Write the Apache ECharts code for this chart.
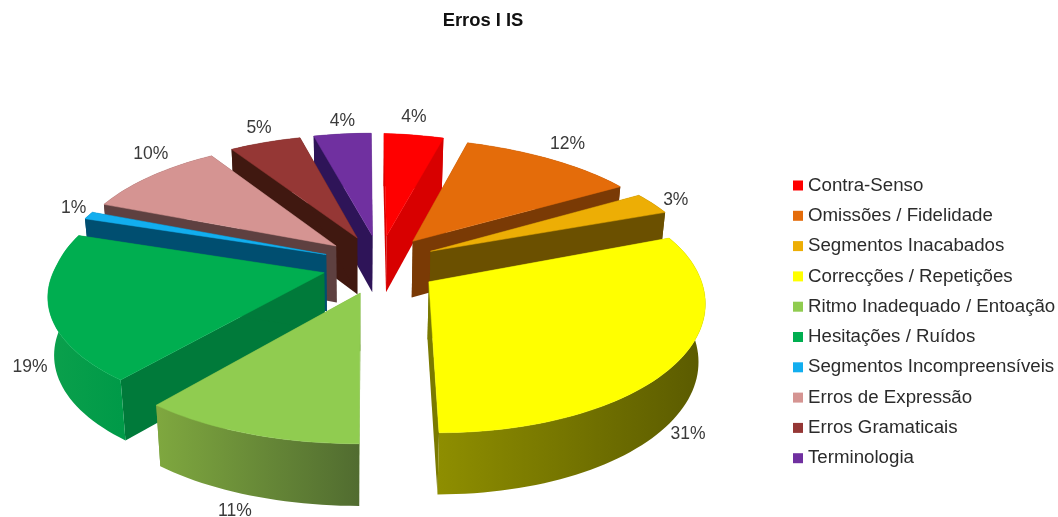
<!DOCTYPE html>
<html>
<head>
<meta charset="utf-8">
<script src="https://cdn.jsdelivr.net/npm/echarts@6/dist/echarts.min.js"></script>
<style>html,body{margin:0;padding:0;background:#fff}#chart{width:1058px;height:517px}</style>
</head>
<body>
<div id="chart"></div>
<script>
// Error categories and their shares, in clockwise order from twelve o'clock
const categories = ['Contra-Senso', 'Omissões / Fidelidade', 'Segmentos Inacabados', 'Correcções / Repetições',
  'Ritmo Inadequado / Entoação', 'Hesitações / Ruídos', 'Segmentos Incompreensíveis', 'Erros de Expressão',
  'Erros Gramaticais', 'Terminologia'];
const shares = [4, 12, 3, 31, 11, 19, 1, 10, 5, 4];

// Slice colours: top face, radial wall, rim gradient (left to right)
const topColors = ['#FF0000', '#E46C0A', '#EDAE05', '#FFFF00', '#90CC50', '#00AE50', '#12AEEF', '#D59492', '#953735', '#7030A0'];
const wallColors = ['#D80000', '#7A3A05', '#6B5000', '#7A7A00', '#6F9A3A', '#007A3A', '#004E70', '#5E4040', '#401810', '#2E1458'];
const rimColors = [['#D80000', '#D80000'], ['#7A3A05', '#7A3A05'], ['#6B5000', '#6B5000'], ['#8E8E00', '#5A5A00'],
  ['#7FA83F', '#516C30'], ['#0BA04C', '#009A48'], ['#004E70', '#004E70'], ['#5E4040', '#5E4040'], ['#401810', '#401810'], ['#2E1458', '#2E1458']];
// Label offsets from the rim point at each slice's mid angle
const labelNudge = [[0, -18], [16, -15], [23, -3], [10, 73], [-13, 78], [-19, 58], [-15, -7], [0, -22], [-6, -14], [0, -13]];

// Pie geometry in a tilted plane with simple perspective
const CX = 380, CY = 264.4, RX = 268, RY = 123, PERSP = 0.13, VANISH_X = 362;
const FRONT_LEFT_FLARE = 11, BACK_RIGHT_DRIFT = 6, FRONT_RIGHT_SAG = 4;
const EXPLODE_U = 0.215, EXPLODE_V = 0.24, DEPTH = 57, FLOOR_SHRINK = 0.98;

const total = shares.reduce((a, b) => a + b, 0);
const startShare = shares.map((_, i) => shares.slice(0, i).reduce((a, b) => a + b, 0));

function project(u, v) {
  const s = 1 / (1 - PERSP * v);
  const flare = FRONT_LEFT_FLARE * Math.max(0, -u) * Math.max(0, v);
  const drift = BACK_RIGHT_DRIFT * Math.max(0, u) * Math.max(0, -v);
  const sag = FRONT_RIGHT_SAG * Math.max(0, v) * Math.min(1, Math.max(0, u) * 6);
  return [VANISH_X + (CX - VANISH_X + RX * u) * s - flare + drift, CY + RY * v * s + drift + sag, s];
}
function floorOf(p) {
  return [VANISH_X + (p[0] - VANISH_X) * FLOOR_SHRINK, p[1] + DEPTH * Math.sqrt(p[2])];
}
function sliceGeometry(i, value) {
  const a0 = startShare[i] / total * 2 * Math.PI;
  const a1 = a0 + value / total * 2 * Math.PI;
  const mid = (a0 + a1) / 2;
  const u0 = Math.sin(mid) * EXPLODE_U, v0 = -Math.cos(mid) * EXPLODE_V;
  const arc = [];
  const steps = Math.max(4, Math.ceil((a1 - a0) / 0.03));
  for (let k = 0; k <= steps; k++) {
    const a = a0 + (a1 - a0) * k / steps;
    arc.push(project(u0 + Math.sin(a), v0 - Math.cos(a)));
  }
  return {
    apex: project(u0, v0), arc,
    rimMid: project(u0 + Math.sin(mid), v0 - Math.cos(mid))
  };
}
const xy = p => [p[0], p[1]];

function renderSlice(i) {
  return function (params, api) {
    const g = sliceGeometry(i, api.value(0));
    const first = g.arc[0], last = g.arc[g.arc.length - 1];
    const xs = g.arc.map(p => p[0]);
    const wall = (a, b) => ({
      type: 'polygon', silent: true,
      shape: { points: [xy(a), xy(b), floorOf(b), floorOf(a)] },
      style: { fill: wallColors[i] }
    });
    const rim = {
      type: 'polygon', silent: true,
      shape: { points: g.arc.map(xy).concat(g.arc.slice().reverse().map(floorOf)) },
      style: {
        fill: new echarts.graphic.LinearGradient(Math.min(...xs), 0, Math.max(...xs), 0,
          [{ offset: 0, color: rimColors[i][0] }, { offset: 1, color: rimColors[i][1] }], true)
      }
    };
    const top = {
      type: 'polygon', silent: true,
      shape: { points: [xy(g.apex)].concat(g.arc.map(xy)) },
      style: { fill: topColors[i], stroke: topColors[i], lineWidth: 0.5 }
    };
    const label = {
      type: 'text', silent: true,
      style: {
        text: Math.round(api.value(0) / total * 100) + '%',
        x: g.rimMid[0] + labelNudge[i][0], y: g.rimMid[1] + labelNudge[i][1],
        align: 'center', verticalAlign: 'middle', fill: '#3a3a3a',
        font: '17.5px "Liberation Sans", Arial, sans-serif'
      }
    };
    return { type: 'group', children: [wall(g.apex, first), wall(g.apex, last), rim, top, label] };
  };
}

// Back slices paint first, so nearer ones cover them
const depthOrder = shares.map((v, i) => {
  const mid = (startShare[i] + v / 2) / total * 2 * Math.PI;
  return { i, d: -Math.cos(mid) };
}).sort((a, b) => a.d - b.d).map(o => o.i);

const chart = echarts.init(document.getElementById('chart'), null, { renderer: 'canvas' });
chart.setOption({
  animation: false,
  backgroundColor: '#ffffff',
  title: {
    text: 'Erros I IS', left: 478, top: 7, textAlign: 'center',
    textStyle: { fontFamily: '"Liberation Sans", Arial, sans-serif', fontSize: 18.4, fontWeight: 'bold', color: '#111' }
  },
  legend: {
    orient: 'vertical', left: 788, top: 171,
    icon: 'rect', itemWidth: 10, itemHeight: 10, itemGap: 11.3,
    selectedMode: false,
    data: categories,
    textStyle: { fontFamily: '"Liberation Sans", Arial, sans-serif', fontSize: 18.7, color: '#2b2b2b', lineHeight: 18 }
  },
  series: categories.map((name, i) => ({
    type: 'custom', name,
    coordinateSystem: 'none',
    silent: true,
    z: 2 + depthOrder.indexOf(i),
    itemStyle: { color: topColors[i] },
    data: [[shares[i]]],
    renderItem: renderSlice(i)
  }))
});
</script>
</body>
</html>
